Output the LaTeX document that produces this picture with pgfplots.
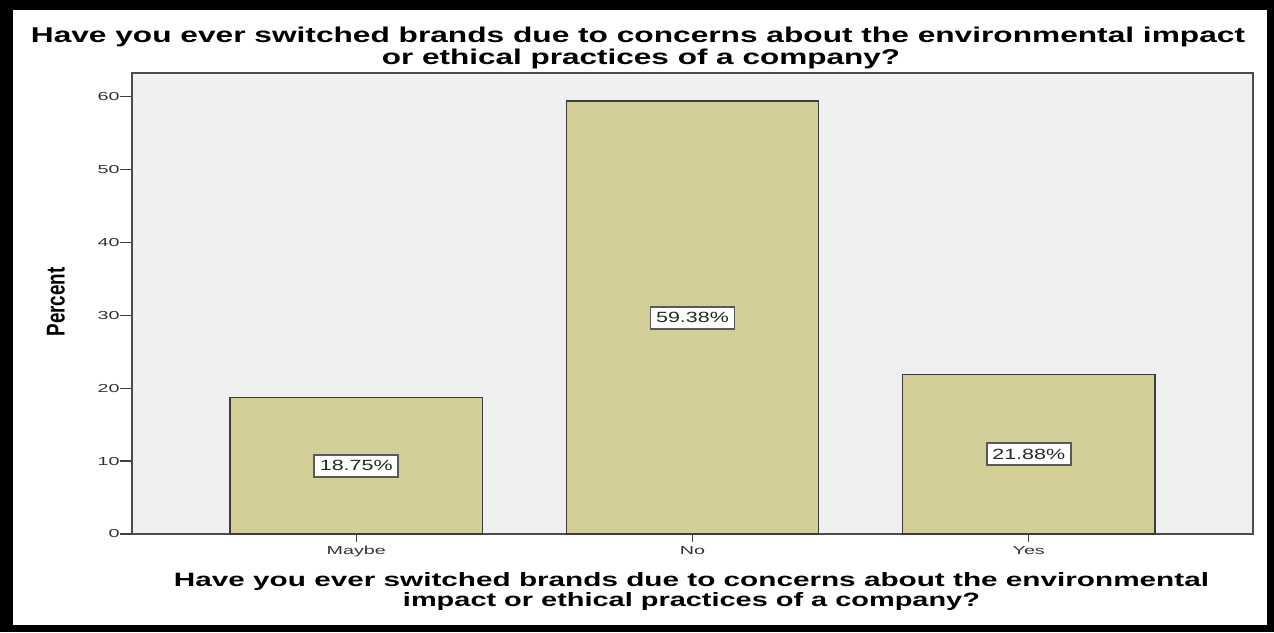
\documentclass[border=0pt]{standalone}
\usepackage{pgfplots}
\pgfplotsset{compat=1.18}
\usepackage{pgfplotstable}
\usepackage{graphicx}
\usepackage{fontspec}
\setmainfont{Liberation Sans}
\definecolor{barfill}{HTML}{D3CE97}
\definecolor{plotbg}{HTML}{F0F0F0}
\definecolor{edge}{HTML}{3C3C3C}
\newcommand{\tk}[1]{\scalebox{1.7}[1]{\fontsize{5.8pt}{6pt}\selectfont #1}}
\newcommand{\vl}[1]{\scalebox{1.45}[1]{\fontsize{7.4pt}{8pt}\selectfont #1}}
\pgfplotstableread{
x y
0 18.75
1 59.38
2 21.88
}\datatable
\begin{document}
\begin{tikzpicture}
\fill[black] (0,0) rectangle (637pt,316pt);
\fill[white] (6.5pt,3.5pt) rectangle (633.5pt,311pt);
\begin{axis}[
  at={(66pt,49pt)}, anchor=south west,
  scale only axis, width=560.5pt, height=230.5pt,
  xmin=-0.667, xmax=2.667, ymin=0, ymax=63.25,
  axis background/.style={fill=plotbg},
  axis line style={draw=black!70, line width=0.7pt},
  xtick={0,1,2}, xticklabels={\tk{Maybe},\tk{No},\tk{Yes}},
  ytick={0,10,20,30,40,50,60},
  yticklabels={\tk{0},\tk{10},\tk{20},\tk{30},\tk{40},\tk{50},\tk{60}},
  tick align=outside, xtick pos=left, ytick pos=left,
  major tick length=6pt,
  xtick style={/pgfplots/major tick length=4pt},
  tick style={draw=black!75, line width=0.7pt},
  yticklabel style={inner sep=0pt, text=black!80},
  xticklabel style={inner sep=0pt, text=black!80},
]
\addplot[ybar, bar width=0.75, fill=barfill, draw=edge, line width=0.8pt]
  table[x=x, y=y] {\datatable};
\addplot[draw=none, mark=none, point meta=explicit,
  nodes near coords={\vl{\pgfmathprintnumber[fixed,precision=2,fixed zerofill,assume math mode=true]{\pgfplotspointmeta}\%}},
  every node near coord/.append style={anchor=center, draw=black!65, line width=0.9pt,
    fill=white, minimum width=42pt, minimum height=11pt, inner sep=0pt, text=black!85}]
  table[x=x, y expr=\thisrow{y}/2, meta=y] {\datatable};
\end{axis}
\node[rotate=90, inner sep=0pt] at (28pt,165pt) {\resizebox{34.5pt}{8.85pt}{\bfseries Percent}};
\node[anchor=base, inner sep=0pt] at (319pt,294.5pt) {\resizebox{607pt}{7.75pt}{\bfseries Have you ever switched brands due to concerns about the environmental impact}};
\node[anchor=base, inner sep=0pt] at (320.5pt,283.5pt) {\resizebox{259pt}{7.75pt}{\bfseries or ethical practices of a company?}};
\node[anchor=base, inner sep=0pt] at (345.75pt,23pt) {\resizebox{517.5pt}{7pt}{\bfseries Have you ever switched brands due to concerns about the environmental}};
\node[anchor=base, inner sep=0pt] at (345.75pt,13pt) {\resizebox{288.5pt}{7pt}{\bfseries impact or ethical practices of a company?}};
\end{tikzpicture}
\end{document}
